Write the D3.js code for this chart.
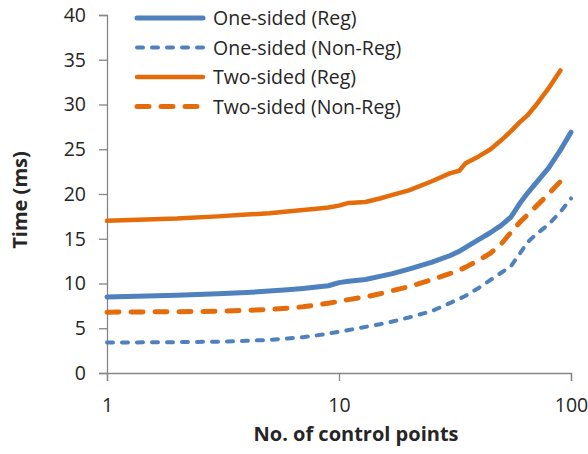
<!DOCTYPE html>
<html>
<head>
<meta charset="utf-8">
<script src="https://cdn.jsdelivr.net/npm/d3@7"></script>
<style>
body { margin: 0; background: #fff; }
text { font-family: "Open Sans", sans-serif; }
</style>
</head>
<body>
<svg id="chart"></svg>
<script>
var svg = d3.select("#chart").attr("width", 588).attr("height", 454),
    margin = {top: 15, right: 17, bottom: 81, left: 107},
    width = +svg.attr("width") - margin.left - margin.right,
    height = +svg.attr("height") - margin.top - margin.bottom;

// number of control points
var points = [1, 2, 3, 4, 5, 6, 7, 8, 9, 10, 11, 13, 15, 17, 20, 25, 30, 33, 35, 40, 45, 50, 55, 60, 65, 70, 80, 90, 100];

// time in ms, null = not measured
var oneReg    = [8.5, 8.7, 8.85, 9.0, 9.15, 9.3, 9.45, 9.6, 9.75, 10.1, 10.25, 10.45, 10.8, 11.1, 11.6, 12.35, 13.1, 13.6, 14.0, 14.9, 15.7, 16.5, 17.4, 18.9, 20.1, 21.1, 22.9, 24.9, 26.9];
var oneNonReg = [3.4, 3.45, 3.5, 3.6, 3.7, 3.85, 4.0, 4.2, 4.4, 4.6, 4.8, 5.15, 5.45, 5.75, 6.2, 6.9, 7.8, 8.3, 8.6, 9.5, 10.4, 11.2, 11.9, 13.3, 14.6, 15.4, 16.6, 18.0, 19.5];
var twoReg    = [17.0, 17.25, 17.5, 17.7, 17.85, 18.05, 18.2, 18.35, 18.5, 18.7, 19.0, 19.1, 19.5, 19.9, 20.4, 21.4, 22.3, 22.6, 23.4, 24.2, 25.0, 26.0, 27.0, 28.0, 28.8, 29.8, 31.8, 33.8, null];
var twoNonReg = [6.8, 6.85, 6.9, 7.0, 7.1, 7.25, 7.4, 7.6, 7.8, 8.0, 8.2, 8.5, 8.85, 9.2, 9.65, 10.4, 11.1, 11.5, 11.8, 12.6, 13.4, 14.4, 15.7, 16.8, 17.7, 18.5, 20.0, 21.4, null];

var seriesNames = ["One-sided (Reg)", "One-sided (Non-Reg)", "Two-sided (Reg)", "Two-sided (Non-Reg)"];
var seriesValues = [oneReg, oneNonReg, twoReg, twoNonReg];
var seriesColors = ["#4f81bd", "#4f81bd", "#e46c0a", "#e46c0a"];
var seriesDash = [null, "6,9", null, "12,12"];
var seriesWidth = [5, 4, 4.5, 5];

var xTicks = [1, 10, 100];
var yTicks = [0, 5, 10, 15, 20, 25, 30, 35, 40];

var xScale = d3.scaleLog()
	.domain([1, 100])
	.range([0, width]);

var yScale = d3.scaleLinear()
	.domain([0, 40])
	.range([height, 0]);

var g = svg.append("g")
	.attr("transform", "translate(" + margin.left + "," + margin.top + ")");

// axes
var bottomAxis = g.append("g")
	.attr("class", "axis")
	.attr("transform", "translate(0," + height + ")")
	.call(d3.axisBottom(xScale).tickValues(xTicks).tickFormat(d3.format("d")).tickSize(8).tickPadding(17));

var leftAxis = g.append("g")
	.attr("class", "axis")
	.call(d3.axisLeft(yScale).tickValues(yTicks).tickSize(8).tickPadding(13));

g.selectAll(".axis path, .axis line")
	.attr("stroke", "#868686")
	.attr("stroke-width", 1.3);

g.selectAll(".axis text")
	.attr("fill", "#262626")
	.style("font-size", "19.5px");

// lines
var line = d3.line()
	.defined(function(d){ return d[1] != null; })
	.x(function(d){ return xScale(d[0]); })
	.y(function(d){ return yScale(d[1]); });

g.selectAll(".series")
	.data(seriesValues)
	.enter()
	.append("path")
	.attr("class", "series")
	.attr("fill", "none")
	.attr("stroke", function(d, i){ return seriesColors[i]; })
	.attr("stroke-width", function(d, i){ return seriesWidth[i]; })
	.attr("stroke-dasharray", function(d, i){ return seriesDash[i]; })
	.attr("stroke-linecap", "round")
	.attr("stroke-linejoin", "round")
	.attr("d", function(d){
		return line(points.map(function(p, k){ return [p, d[k]]; }));
	});

// legend
var legend = svg.selectAll(".legend")
	.data(seriesNames)
	.enter()
	.append("g")
	.attr("class", "legend")
	.attr("transform", function(d, i){ return "translate(137," + (18 + i * 29.5) + ")"; });

legend.append("line")
	.attr("x1", 0)
	.attr("x2", 66)
	.attr("stroke", function(d, i){ return seriesColors[i]; })
	.attr("stroke-width", function(d, i){ return seriesWidth[i]; })
	.attr("stroke-dasharray", function(d, i){ return seriesDash[i]; })
	.attr("stroke-linecap", "round");

legend.append("text")
	.attr("x", 76)
	.attr("y", 7)
	.attr("fill", "#262626")
	.style("font-size", "19.5px")
	.text(function(d){ return d; });

// axis titles
svg.append("text")
	.attr("x", 356)
	.attr("y", 441)
	.attr("text-anchor", "middle")
	.attr("font-weight", "bold")
	.attr("fill", "#262626")
	.style("font-size", "20px")
	.text("No. of control points");

svg.append("text")
	.attr("transform", "translate(27,200) rotate(-90)")
	.attr("text-anchor", "middle")
	.attr("font-weight", "bold")
	.attr("fill", "#262626")
	.style("font-size", "20px")
	.text("Time (ms)");
</script>
</body>
</html>
